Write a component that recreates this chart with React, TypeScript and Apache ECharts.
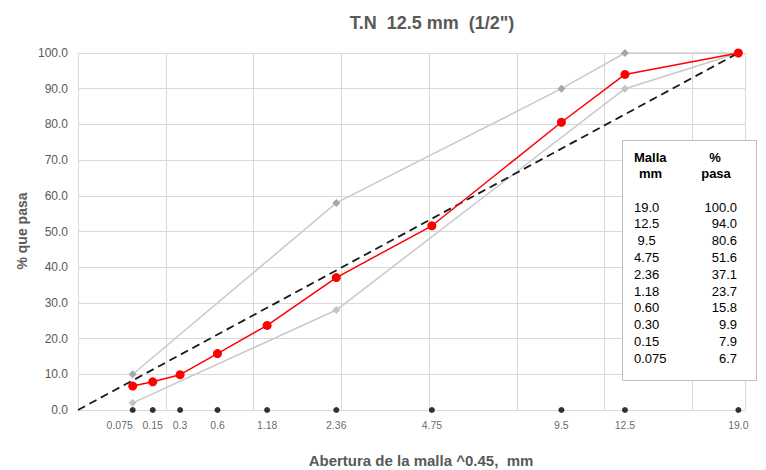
import React, { useEffect, useRef } from "react";
import * as echarts from "echarts";

const sieves = [19.0, 12.5, 9.5, 4.75, 2.36, 1.18, 0.6, 0.3, 0.15, 0.075];
const sieveLabels = ["19.0", "12.5", "9.5", "4.75", "2.36", "1.18", "0.6", "0.3", "0.15", "0.075"];
const tableSieves = ["19.0", "12.5", " 9.5", "4.75", "2.36", "1.18", "0.60", "0.30", "0.15", "0.075"];
const passing = [100.0, 94.0, 80.6, 51.6, 37.1, 23.7, 15.8, 9.9, 7.9, 6.7];
const upperSieves = [19.0, 12.5, 9.5, 2.36, 0.075];
const upperValues = [100, 100, 90, 58, 10];
const lowerSieves = [19.0, 12.5, 2.36, 0.075];
const lowerValues = [100, 90, 28, 2];
const maxDensitySieves = [0, 19.0];
const maxDensityValues = [0, 100];
const EXP = 0.45;

const tx = (s: number) => Math.pow(s, EXP);

export default function App() {
  const ref = useRef<HTMLDivElement>(null);
  useEffect(() => {
    document.body.style.margin = "0";
    const chart = echarts.init(ref.current!, null, { renderer: "svg" });
    const font = "'Liberation Sans', Arial, sans-serif";
    const gray = "#595959";

    const rowY0 = 207;
    const rowH = 16.8;
    const tableTexts: any[] = [];
    tableSieves.forEach((s, i) => {
      tableTexts.push({
        type: "text",
        x: 634,
        y: rowY0 + i * rowH,
        z: 101,
        style: { text: s, font: `13px ${font}`, fill: "#000", verticalAlign: "middle" },
      });
    });
    passing.forEach((p, i) => {
      tableTexts.push({
        type: "text",
        x: 737,
        y: rowY0 + i * rowH,
        z: 101,
        style: { text: p.toFixed(1), font: `13px ${font}`, fill: "#000", align: "right", verticalAlign: "middle" },
      });
    });

    chart.setOption({
      animation: false,
      backgroundColor: "#fff",
      title: {
        text: 'T.N  12.5 mm  (1/2")',
        left: 427,
        top: 9,
        textAlign: "center",
        textStyle: { fontFamily: font, fontSize: 18, fontWeight: "bold", color: gray },
      },
      grid: { left: 78, right: 21, top: 53, bottom: 60, containLabel: false },
      xAxis: {
        type: "value",
        min: 0,
        max: 3.8,
        interval: 0.5,
        axisLabel: { show: false },
        axisTick: { show: false },
        axisLine: { show: true, lineStyle: { color: "#d9d9d9", width: 1 } },
        splitLine: { show: true, lineStyle: { color: "#d9d9d9", width: 1 } },
      },
      yAxis: {
        type: "value",
        min: 0,
        max: 100,
        interval: 10,
        axisLabel: {
          formatter: (v: number) => v.toFixed(1),
          color: gray,
          fontFamily: font,
          fontSize: 12,
          margin: 10,
        },
        axisTick: { show: false },
        axisLine: { show: true, lineStyle: { color: "#d9d9d9" } },
        splitLine: { show: true, lineStyle: { color: "#d9d9d9", width: 1 } },
      },
      graphic: [
        {
          type: "text",
          x: 421,
          y: 460,
          style: {
            text: "Abertura de la malla ^0.45,  mm",
            font: `bold 15px ${font}`,
            fill: gray,
            align: "center",
            verticalAlign: "middle",
          },
        },
        {
          type: "text",
          x: 22,
          y: 231,
          rotation: Math.PI / 2,
          style: {
            text: "% que pasa",
            font: `bold 14px ${font}`,
            fill: gray,
            align: "center",
            verticalAlign: "middle",
          },
        },
        {
          type: "rect",
          z: 100,
          shape: { x: 622.5, y: 140.5, width: 134, height: 240 },
          style: { fill: "#fff", stroke: "#bfbfbf", lineWidth: 1 },
        },
        { type: "text", z: 101, x: 634, y: 157, style: { text: "Malla", font: `bold 13px ${font}`, fill: "#000", verticalAlign: "middle" } },
        { type: "text", z: 101, x: 639, y: 173, style: { text: "mm", font: `bold 13px ${font}`, fill: "#000", verticalAlign: "middle" } },
        { type: "text", z: 101, x: 715, y: 157, style: { text: "%", font: `bold 13px ${font}`, fill: "#000", align: "center", verticalAlign: "middle" } },
        { type: "text", z: 101, x: 716, y: 173, style: { text: "pasa", font: `bold 13px ${font}`, fill: "#000", align: "center", verticalAlign: "middle" } },
        ...tableTexts,
      ],
      series: [
        {
          name: "Máxima densidad",
          type: "line",
          data: maxDensitySieves.map((s, i) => [tx(s), maxDensityValues[i]]),
          showSymbol: false,
          lineStyle: { color: "#1a1a1a", width: 1.8, type: [8, 5] },
          z: 3,
        },
        {
          name: "Límite superior",
          type: "line",
          data: upperSieves.map((s, i) => [tx(s), upperValues[i]]),
          symbol: "diamond",
          symbolSize: 8,
          itemStyle: { color: "#a6a6a6" },
          lineStyle: { color: "#c9c9c9", width: 1.5 },
          z: 2,
        },
        {
          name: "Límite inferior",
          type: "line",
          data: lowerSieves.map((s, i) => [tx(s), lowerValues[i]]),
          symbol: "diamond",
          symbolSize: 8,
          itemStyle: { color: "#c4c4c4" },
          lineStyle: { color: "#c9c9c9", width: 1.5 },
          z: 2,
        },
        {
          name: "Granulometría",
          type: "line",
          data: sieves.map((s, i) => [tx(s), passing[i]]),
          symbol: "circle",
          symbolSize: 9,
          itemStyle: { color: "#ff0000" },
          lineStyle: { color: "#ff0000", width: 1.5 },
          z: 4,
        },
        {
          name: "Tamices",
          type: "scatter",
          data: sieves.map((s, i) => ({
            value: [tx(s), 0],
            name: sieveLabels[i],
            label: s === 0.075 ? { offset: [-13, 0] } : undefined,
          })),
          symbol: "circle",
          symbolSize: 6,
          itemStyle: { color: "#000" },
          label: {
            show: true,
            position: "bottom",
            distance: 6,
            formatter: (p: any) => p.name,
            color: "#404040",
            fontFamily: font,
            fontSize: 10.5,
          },
          clip: false,
          z: 5,
        },
      ],
    });
    return () => chart.dispose();
  }, []);
  return <div ref={ref} style={{ width: 766, height: 470 }} />;
}
